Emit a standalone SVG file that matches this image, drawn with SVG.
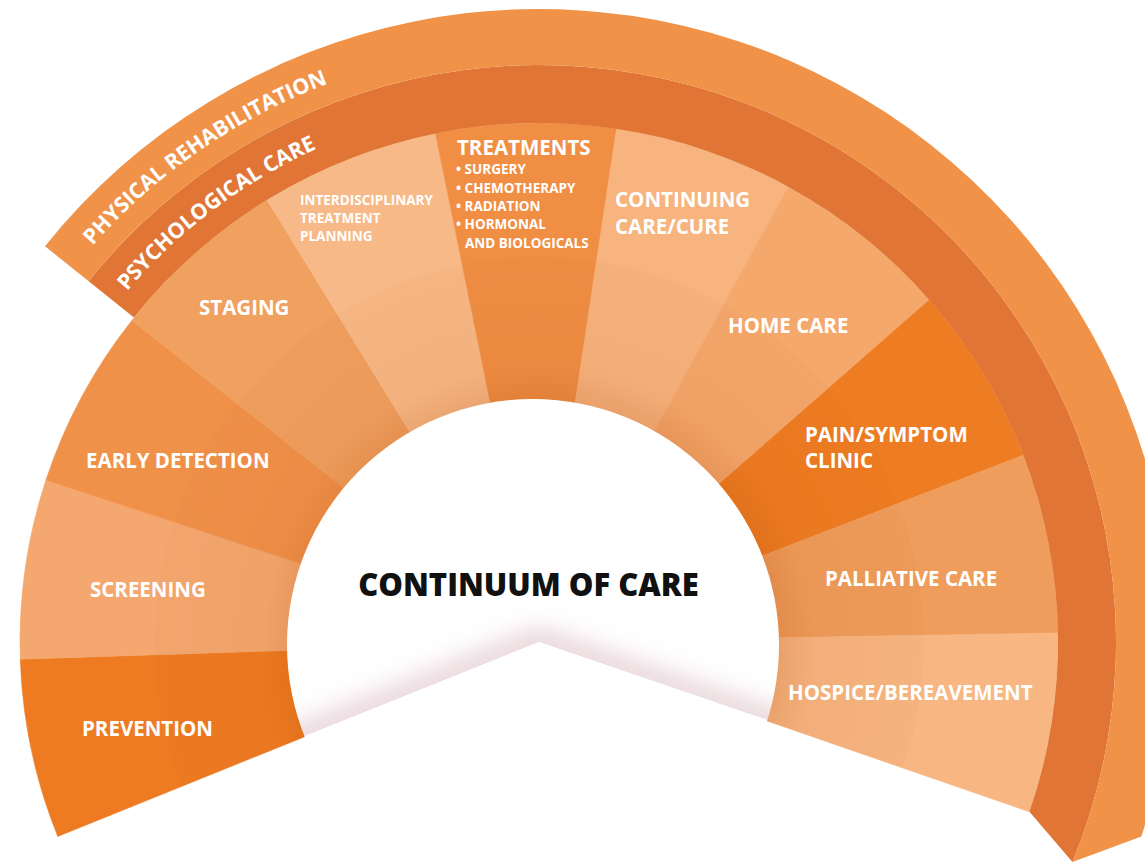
<svg xmlns="http://www.w3.org/2000/svg" width="1145" height="863" viewBox="0 0 1145 863">
<style>
.seg{stroke-width:0.6}
.lbl{font-family:"Open Sans","Liberation Sans",sans-serif;font-weight:700;fill:#ffffff}
.big{font-size:20.5px}
.small{font-size:13.5px}
.band{font-family:"Open Sans","Liberation Sans",sans-serif;font-weight:700;fill:#ffffff;font-size:21.5px}
.title{font-family:"Open Sans","Liberation Sans",sans-serif;font-weight:800;fill:#111111;font-size:31px}
</style>
<defs>
<radialGradient id="shade" gradientUnits="userSpaceOnUse" cx="539" cy="642" r="385">
<stop offset="0" stop-color="#A84000" stop-opacity="0.22"/>
<stop offset="0.6" stop-color="#A84000" stop-opacity="0.2"/>
<stop offset="0.72" stop-color="#A84000" stop-opacity="0.06"/>
<stop offset="1" stop-color="#A84000" stop-opacity="0.03"/>
</radialGradient>
<clipPath id="discClip"><circle cx="533" cy="645" r="246"/></clipPath>
<clipPath id="aboveV"><polygon points="539,642 -202.7,941.7 -300,-100 1400,-100 1389.5,936.5"/></clipPath>
<filter id="soft" x="-20%" y="-50%" width="140%" height="200%"><feGaussianBlur stdDeviation="13"/></filter>
<path id="physArc" d="M 92.56 245.63 A 597 597 0 0 1 435.33 54.07"/>
<path id="psychArc" d="M 127.01 291.37 A 541 541 0 0 1 445.06 109.22"/>
</defs>

<g id="segments">
<g id="seg-prevention"><path class="seg" fill="#EE7B22" stroke="#EE7B22" d="M 539 642 L 57.79 836.42 A 519 519 0 0 1 20.29 659.21 Z"/></g>
<g id="seg-screening"><path class="seg" fill="#F4A86F" stroke="#F4A86F" d="M 539 642 L 20.29 659.21 A 519 519 0 0 1 45.97 479.90 Z"/></g>
<g id="seg-early-detection"><path class="seg" fill="#F0914A" stroke="#F0914A" d="M 539 642 L 45.97 479.90 A 519 519 0 0 1 131.89 320.39 Z"/></g>
<g id="seg-staging"><path class="seg" fill="#F0A05F" stroke="#F0A05F" d="M 539 642 L 131.89 320.39 A 519 519 0 0 1 267.05 199.95 Z"/></g>
<g id="seg-interdisciplinary"><path class="seg" fill="#F7B987" stroke="#F7B987" d="M 539 642 L 267.05 199.95 A 519 519 0 0 1 435.53 133.42 Z"/></g>
<g id="seg-treatments"><path class="seg" fill="#F08E44" stroke="#F08E44" d="M 539 642 L 435.53 133.42 A 519 519 0 0 1 616.61 128.83 Z"/></g>
<g id="seg-continuing"><path class="seg" fill="#F7B47F" stroke="#F7B47F" d="M 539 642 L 616.61 128.83 A 519 519 0 0 1 788.23 186.76 Z"/></g>
<g id="seg-home-care"><path class="seg" fill="#F5A86C" stroke="#F5A86C" d="M 539 642 L 788.23 186.76 A 519 519 0 0 1 929.33 299.93 Z"/></g>
<g id="seg-pain"><path class="seg" fill="#EE7C22" stroke="#EE7C22" d="M 539 642 L 929.33 299.93 A 519 519 0 0 1 1023.20 455.17 Z"/></g>
<g id="seg-palliative"><path class="seg" fill="#EF9D5C" stroke="#EF9D5C" d="M 539 642 L 1023.20 455.17 A 519 519 0 0 1 1057.92 632.94 Z"/></g>
<g id="seg-hospice"><path class="seg" fill="#F7B682" stroke="#F7B682" d="M 539 642 L 1057.92 632.94 A 519 519 0 0 1 1029.43 811.83 Z"/></g>
</g>

<path id="inner-shade" fill="url(#shade)" d="M 539 642 L 182.04 786.22 A 385 385 0 1 1 902.81 767.98 Z"/>

<g id="center">
<circle cx="533" cy="645" r="246" fill="#ffffff"/>
<g clip-path="url(#aboveV)"><g clip-path="url(#discClip)">
<path d="M 260.85 754.38 L 539 642 L 822.49 740.17" fill="none" stroke="#C99AA4" stroke-width="26" opacity="0.45" filter="url(#soft)"/>
</g></g>
<polygon points="539,642 180,786 180,863 900,863 900,765" fill="#ffffff" clip-path="url(#discClip)"/>
<text class="title" x="528.5" y="596" text-anchor="middle">CONTINUUM OF CARE</text>
</g>

<g id="band-psychological">
<path fill="#E07535" d="M 133.96 317.5 L 88.69 281.24 A 577 577 0 0 1 1072.47 861.88 L 1029.43 811.83 A 519 519 0 0 0 133.96 317.5 Z"/>
<text class="band"><textPath href="#psychArc">PSYCHOLOGICAL CARE</textPath></text>
</g>
<g id="band-physical">
<path fill="#F09349" d="M 88.69 281.24 L 44.99 246.22 A 633 633 0 0 1 1141.36 836.56 L 1072.47 861.88 A 577 577 0 0 0 88.69 281.24 Z"/>
<text class="band"><textPath href="#physArc">PHYSICAL REHABILITATION</textPath></text>
</g>

<g id="labels">
<text class="lbl big" x="82" y="736">PREVENTION</text>
<text class="lbl big" x="90" y="597">SCREENING</text>
<text class="lbl big" x="86" y="468">EARLY DETECTION</text>
<text class="lbl big" x="199" y="315">STAGING</text>
<text class="lbl small" x="300" y="205">INTERDISCIPLINARY</text>
<text class="lbl small" x="300" y="223">TREATMENT</text>
<text class="lbl small" x="300" y="241">PLANNING</text>
<text class="lbl big" x="457" y="155">TREATMENTS</text>
<text class="lbl small" x="456" y="174">• SURGERY</text>
<text class="lbl small" x="456" y="193">• CHEMOTHERAPY</text>
<text class="lbl small" x="456" y="211">• RADIATION</text>
<text class="lbl small" x="456" y="229">• HORMONAL</text>
<text class="lbl small" x="465" y="248">AND BIOLOGICALS</text>
<text class="lbl big" x="615" y="207">CONTINUING</text>
<text class="lbl big" x="615" y="234">CARE/CURE</text>
<text class="lbl big" x="728" y="333">HOME CARE</text>
<text class="lbl big" x="805" y="442">PAIN/SYMPTOM</text>
<text class="lbl big" x="805" y="468">CLINIC</text>
<text class="lbl big" x="825" y="586">PALLIATIVE CARE</text>
<text class="lbl big" x="788" y="700">HOSPICE/BEREAVEMENT</text>
</g>
</svg>
